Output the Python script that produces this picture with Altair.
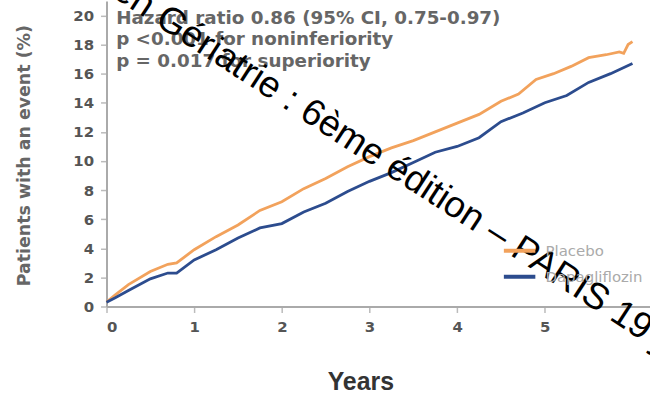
import altair as alt
import pandas as pd

# ---- data ----
placebo_years = [0.0, 0.1, 0.25, 0.5, 0.7, 0.8, 1.0, 1.25, 1.5, 1.75, 2.0, 2.25, 2.5, 2.75,
                 3.0, 3.25, 3.5, 3.75, 4.0, 4.25, 4.5, 4.7, 4.9, 5.1, 5.3, 5.5, 5.7, 5.85,
                 5.9, 5.95, 6.0]
placebo_pct = [0.3, 0.8, 1.5, 2.4, 2.9, 3.0, 3.9, 4.8, 5.6, 6.6, 7.2, 8.1, 8.8, 9.6,
               10.3, 10.9, 11.4, 12.0, 12.6, 13.2, 14.1, 14.6, 15.6, 16.0, 16.5, 17.1, 17.3, 17.5,
               17.4, 18.0, 18.2]

dapa_years = [0.0, 0.1, 0.25, 0.5, 0.7, 0.8, 1.0, 1.25, 1.5, 1.75, 2.0, 2.25, 2.5, 2.75,
              3.0, 3.25, 3.5, 3.75, 4.0, 4.25, 4.5, 4.75, 5.0, 5.25, 5.5, 5.75, 6.0]
dapa_pct = [0.3, 0.6, 1.1, 1.9, 2.3, 2.3, 3.2, 3.9, 4.7, 5.4, 5.7, 6.5, 7.1, 7.9,
            8.6, 9.2, 9.9, 10.6, 11.0, 11.6, 12.7, 13.3, 14.0, 14.5, 15.4, 16.0, 16.7]

series_names = ["Placebo", "Dapagliflozin"]
series_colors = ["#F2A25C", "#2C4C8E"]

x_ticks = [0, 1, 2, 3, 4, 5]
y_ticks = [0, 2, 4, 6, 8, 10, 12, 14, 16, 18, 20]

annot_lines = ["Hazard ratio 0.86 (95% CI, 0.75-0.97)",
               "p <0.001 for noninferiority",
               "p = 0.017 for superiority"]
annot_x = [0.11, 0.11, 0.11]
annot_y = [19.8, 18.35, 16.9]

watermark_text = ["en Gériatrie : 6ème édition – PARIS 19 juin"]
watermark_x = [0.05]
watermark_y = [21.35]

# ---- tables ----
lines_df = pd.concat([
    pd.DataFrame({"Years": placebo_years, "pct": placebo_pct, "series": series_names[0]}),
    pd.DataFrame({"Years": dapa_years, "pct": dapa_pct, "series": series_names[1]}),
])
annot_df = pd.DataFrame({"Years": annot_x, "pct": annot_y, "t": annot_lines})
wm_df = pd.DataFrame({"Years": watermark_x, "pct": watermark_y, "t": watermark_text})

xscale = alt.Scale(domain=[0, 6.2], nice=False, zero=False)
yscale = alt.Scale(domain=[0, 21], nice=False)

x_axis = alt.Axis(values=x_ticks, title="Years", format="d", labelOverlap=False,
                  titleFont="Liberation Sans", titleFontSize=25, titleFontWeight="bold",
                  titleColor="#333", titleBaseline="alphabetic", titleAlign="center",
                  titleX=255, titleY=83)
y_axis = alt.Axis(values=y_ticks, title="Patients with an event (%)", labelOverlap=False,
                  titleFont="DejaVu Sans", titleFontSize=17.5, titleFontWeight="bold",
                  titleColor="#666", titleBaseline="middle", titleAlign="center",
                  titleAngle=-90, titleX=-82, titleY=155)

X = alt.X("Years:Q", scale=xscale, axis=x_axis)
Y = alt.Y("pct:Q", scale=yscale, axis=y_axis)

lines = alt.Chart(lines_df).mark_line(strokeWidth=2.8, clip=False).encode(
    x=X, y=Y,
    color=alt.Color("series:N",
                    scale=alt.Scale(domain=series_names, range=series_colors),
                    legend=alt.Legend(title=None, orient="none", legendX=397, legendY=233,
                                      symbolType="stroke", symbolSize=1000, symbolStrokeWidth=4,
                                      labelFont="DejaVu Sans", labelFontSize=15, labelColor="#aaa",
                                      labelOffset=8, rowPadding=-4)),
    order=alt.Order("series:N", sort="ascending"),
)

annot = alt.Chart(annot_df).mark_text(
    align="left", baseline="middle", font="DejaVu Sans", fontWeight="bold",
    fontSize=18.4, color="#666"
).encode(x=X, y=Y, text="t:N")

wm = alt.Chart(wm_df).mark_text(
    align="left", baseline="alphabetic", font="Liberation Sans", fontSize=37,
    angle=33, color="#000", clip=False
).encode(x=X, y=Y, text="t:N")

chart = alt.layer(lines, annot, wm).properties(
    width=546, height=307,
    padding={"left": 107, "top": 0, "right": 0, "bottom": 88},
    autosize=alt.AutoSizeParams(type="none"),
    background="white",
).configure_view(stroke=None).configure_axis(
    grid=False,
    domainColor="#aaa", domainWidth=2,
    tickColor="#bbb", tickSize=6, tickWidth=1.5,
    labelFont="DejaVu Sans", labelFontWeight="bold", labelFontSize=15, labelColor="#555",
).configure_axisX(labelPadding=7).configure_axisY(labelPadding=7)

chart.save("out.html", embed_options={"renderer": "svg", "actions": False})
